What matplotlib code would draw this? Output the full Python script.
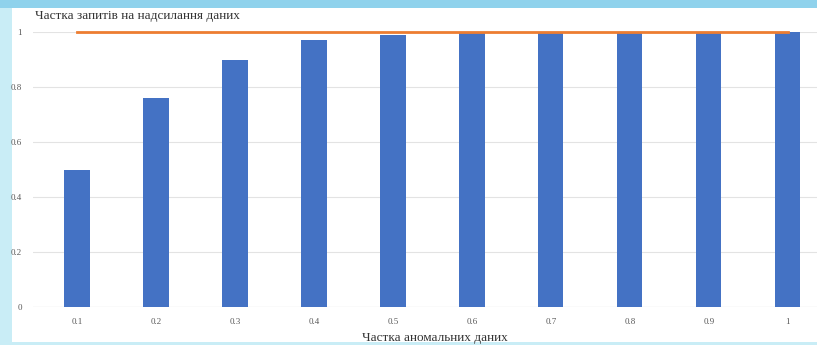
import matplotlib.pyplot as plt
from matplotlib.patches import Rectangle
import numpy as np

# частка аномальних даних / частка запитів
categories = ["0.1", "0.2", "0.3", "0.4", "0.5", "0.6", "0.7", "0.8", "0.9", "1"]
requests = [0.50, 0.76, 0.90, 0.97, 0.99, 1.0, 1.0, 1.0, 1.0, 1.0]
limit = [1, 1, 1, 1, 1, 1, 1, 1, 1, 1]
yticks = [0, 0.2, 0.4, 0.6, 0.8, 1]
ytick_labels = ["0", "0.2", "0.4", "0.6", "0.8", "1"]

plt.rcParams["font.family"] = ["Liberation Serif", "DejaVu Serif"]

fig = plt.figure(figsize=(8.17, 3.45), dpi=100)
fig.patch.set_facecolor("#c9edf6")
# білий фон слайда під діаграмою
fig.add_artist(Rectangle((12 / 817, 3 / 345), 1, 334 / 345, transform=fig.transFigure,
                         facecolor="white", edgecolor="none", zorder=0))
fig.add_artist(Rectangle((0, 337 / 345), 1, 8 / 345, transform=fig.transFigure,
                         facecolor="#8fd2ec", edgecolor="none", zorder=0))

ax = fig.add_axes([33 / 817, 38 / 345, 784 / 817, 275 / 345])
ax.set_facecolor("none")

x = np.arange(len(categories))
ax.bar(x, requests, width=0.32, color="#4472c4", zorder=2)
ax.plot(x, limit, color="#ed7d31", lw=2, zorder=3, clip_on=False)

ax.set_xlim(-0.557, 9.37)
ax.set_ylim(0, 1)
ax.set_yticks(yticks)
ax.set_yticklabels(ytick_labels)
ax.set_xticks(x)
ax.set_xticklabels(categories)
ax.tick_params(length=0, labelsize=6.5, labelcolor="#595959")
ax.tick_params(axis="y", pad=8)
ax.tick_params(axis="x", pad=8)
ax.grid(axis="y", color="#e3e3e3", lw=0.8, zorder=0)
for s in ax.spines.values():
    s.set_visible(False)
ax.axhline(0, color="#d9d9d9", lw=0.8, zorder=1)

fig.text(35 / 817, 1 - 16 / 345, "Частка запитів на надсилання даних", fontsize=9.5,
         color="#333333", va="center", ha="left")
fig.text(435 / 817, 1 - 338 / 345, "Частка аномальних даних", fontsize=9.5,
         color="#333333", va="center", ha="center")

fig.savefig("out.png", dpi=100, facecolor=fig.get_facecolor())
